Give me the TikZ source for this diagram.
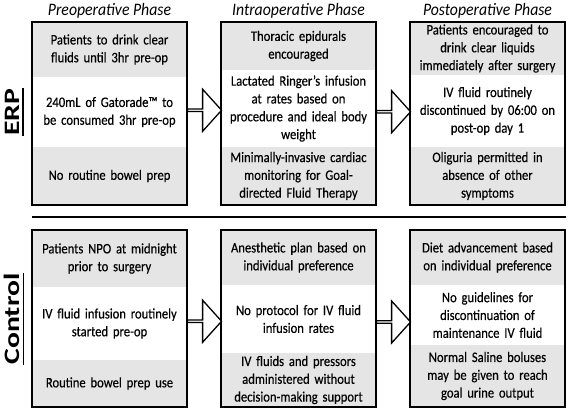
\documentclass[tikz,border=0pt]{standalone}
\usepackage{fontspec}
\setmainfont{Carlito}
\newfontfamily\cellfamily[FakeStretch=0.87, FakeBold=0.4]{Carlito}
\newfontfamily\phasefamily[FakeStretch=0.9]{Carlito}
\usepackage{tikz}
\usetikzlibrary{shapes.arrows}
\usetikzlibrary{calc}

\tikzset{
  cell/.style={minimum width=155pt, text width=150pt, align=center, inner sep=0pt,
    font=\cellfamily\fontsize{14.5}{17.8}\selectfont},
  greycell/.style={cell, fill=black!10},
  whitecell/.style={cell, fill=white},
  frame/.style={draw, line width=1.6pt},
  phase/.style={font=\phasefamily\itshape\fontsize{17.5}{19}\selectfont},
  group/.style={rotate=90, inner sep=0pt, font=\bfseries\fontsize{22}{24}\selectfont},
  bigarrow/.style={single arrow, draw, fill=white, line width=1.3pt, inner sep=0pt,
    minimum height=34pt, minimum width=42pt, single arrow head extend=10.5pt,
    single arrow tip angle=96},
}

\begin{document}
\begin{tikzpicture}[x=1pt,y=-1pt]
        \useasboundingbox (0,0) rectangle (568,417);
        % phase headings
        \node[phase] (h1) at (109.5,11) {Preoperative Phase};
        \node[phase] (h2) at (298.5,11) {Intraoperative Phase};
        \node[phase] (h3) at (487.5,11) {Postoperative Phase};
        % ERP
        \node[greycell, minimum height=55pt] (e11) at (109.5,49.5) {Patients to drink clear\\fluids until 3hr pre-op};
        \node[whitecell, minimum height=70pt] (e12) at (109.5,112) {240mL of Gatorade™ to\\be consumed 3hr pre-op};
        \node[greycell, minimum height=58pt] (e13) at (109.5,176) {No routine bowel prep};
        \node[greycell, minimum height=48pt] (e21) at (298.5,46) {Thoracic epidurals\\encouraged};
        \node[whitecell, minimum height=77pt] (e22) at (298.5,108.5) {Lactated Ringer’s infusion\\at rates based on\\procedure and ideal body\\weight};
        \node[greycell, minimum height=58pt] (e23) at (298.5,176) {Minimally-invasive cardiac\\monitoring for Goal-\\directed Fluid Therapy};
        \node[greycell, minimum height=53pt] (e31) at (487.5,48.5) {Patients encouraged to\\drink clear liquids\\immediately after surgery};
        \node[whitecell, minimum height=72pt] (e32) at (487.5,111) {IV fluid routinely\\discontinued by 06:00 on\\post-op day 1};
        \node[greycell, minimum height=58pt] (e33) at (487.5,176) {Oliguria permitted in\\absence of other\\symptoms};
        \draw[frame] (e11.north west) rectangle (e13.south east);
        \draw[frame] (e21.north west) rectangle (e23.south east);
        \draw[frame] (e31.north west) rectangle (e33.south east);
        \node[bigarrow] (ea1) at ($(e12.east)!0.5!(e22.west)$) {};
        \node[bigarrow] (ea2) at ($(e22.east)!0.5!(e32.west)+(0,2)$) {};
        % Control
        \node[greycell, minimum height=57pt] (c11) at (109.5,258.5) {Patients NPO at midnight\\prior to surgery};
        \node[whitecell, minimum height=73pt] (c12) at (109.5,323.5) {IV fluid infusion routinely\\started pre-op};
        \node[greycell, minimum height=47pt] (c13) at (109.5,383.5) {Routine bowel prep use};
        \node[greycell, minimum height=55pt] (c21) at (298.5,257.5) {Anesthetic plan based on\\individual preference};
        \node[whitecell, minimum height=68pt] (c22) at (298.5,319) {No protocol for IV fluid\\infusion rates};
        \node[greycell, minimum height=54pt] (c23) at (298.5,380) {IV fluids and pressors\\administered without\\decision-making support};
        \node[greycell, minimum height=55pt] (c31) at (487.5,257.5) {Diet advancement based\\on individual preference};
        \node[whitecell, minimum height=60pt] (c32) at (487.5,315) {No guidelines for\\discontinuation of\\maintenance IV fluid};
        \node[greycell, minimum height=62pt] (c33) at (487.5,376) {Normal Saline boluses\\may be given to reach\\goal urine output};
        \draw[frame] (c11.north west) rectangle (c13.south east);
        \draw[frame] (c21.north west) rectangle (c23.south east);
        \draw[frame] (c31.north west) rectangle (c33.south east);
        \node[bigarrow] (ca1) at ($(c12.east)!0.5!(c22.west)$) {};
        \node[bigarrow] (ca2) at ($(c22.east)!0.5!(c32.west)+(0,5)$) {};
        % separator and group labels
        \draw[line width=2.6pt] (32,217) -- (566,217);
        \node[group] (erp) at (12,112) {\scalebox{1.35}[1]{ERP}};
        \node[group] (ctl) at (12,319) {\scalebox{1.35}[1]{Control}};
        \draw[line width=1.8pt] ([xshift=3.5pt]erp.south west) -- ([xshift=3.5pt]erp.south east);
        \draw[line width=1.8pt] ([xshift=3.5pt]ctl.south west) -- ([xshift=3.5pt]ctl.south east);
\end{tikzpicture}
\end{document}
